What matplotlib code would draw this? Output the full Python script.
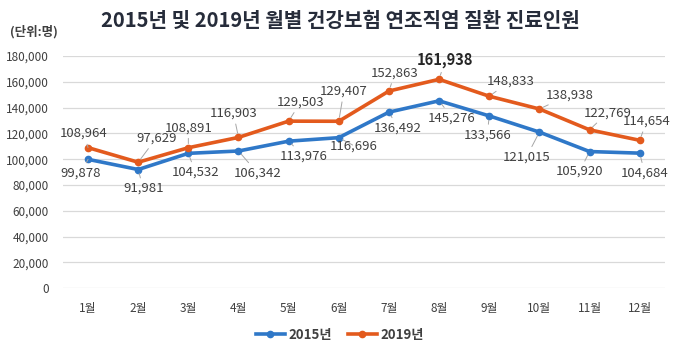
import matplotlib
matplotlib.use("Agg")
import matplotlib.pyplot as plt
from matplotlib.ticker import FuncFormatter, MultipleLocator

plt.rcParams['font.family'] = ['Noto Sans CJK KR', 'DejaVu Sans']

months = ['1월', '2월', '3월', '4월', '5월', '6월', '7월', '8월', '9월', '10월', '11월', '12월']
v2015 = [99878, 91981, 104532, 106342, 113976, 116696, 136492, 145276, 133566, 121015, 105920, 104684]
v2019 = [108964, 97629, 108891, 116903, 129503, 129407, 152863, 161938, 148833, 138938, 122769, 114654]
series_names = ['2015년', '2019년']
title = '2015년 및 2019년 월별 건강보험 연조직염 질환 진료인원'
unit_label = '(단위:명)'

# label offsets in pixels (dx, dy), dy positive = up
off2019 = [(-4, 14), (18, 24), (0, 20), (-5, 24), (12, 19), (5, 30),
           (6, 18), (6, 19), (21, 15), (30, 14), (18, 17), (7, 19)]
off2015 = [(-7, -14), (5, -19), (7, -19), (19, -22), (15, -15), (15, -8),
           (9, -16), (13, -17), (-2, -19), (-13, -25), (-10, -20), (5, -20)]

c2015 = '#2f78c8'
c2019 = '#e35a1d'
txt = '#404040'

fig = plt.figure(figsize=(6.8, 3.57), dpi=100)
ax = fig.add_axes([0.0926, 0.193, 0.885, 0.650])

x = list(range(len(months)))
ax.plot(x, v2015, color=c2015, lw=2.6, marker='o', ms=4.5, label=series_names[0], zorder=3)
ax.plot(x, v2019, color=c2019, lw=2.6, marker='o', ms=4.5, label=series_names[1], zorder=3)

ax.set_xlim(-0.5, len(months) - 0.5)
ax.set_ylim(0, 180000)
ax.yaxis.set_major_locator(MultipleLocator(20000))
ax.yaxis.set_major_formatter(FuncFormatter(lambda v, p: f'{int(v):,}'))
ax.set_xticks(x)
ax.set_xticklabels(months)
ax.grid(axis='y', color='#d9d9d9', lw=0.9)
ax.set_axisbelow(True)
for s in ax.spines.values():
    s.set_visible(False)
ax.tick_params(axis='both', length=0, labelsize=8.5, colors=txt)
ax.tick_params(axis='x', pad=10)
ax.tick_params(axis='y', pad=10)

def label(vals, offs, bold_idx=None):
    for i, (v, (dx, dy)) in enumerate(zip(vals, offs)):
        ax.annotate(f'{v:,}', xy=(i, v), xytext=(dx, dy), textcoords='offset pixels',
                    ha='center', va='center', fontsize=9.5 if i != bold_idx else 10.5,
                    fontweight='bold' if i == bold_idx else 'normal',
                    color='#262626' if i == bold_idx else txt,
                    arrowprops=dict(arrowstyle='-', color='#a6a6a6', lw=0.7,
                                    shrinkA=1, shrinkB=3), zorder=4)

label(v2019, off2019, bold_idx=7)
label(v2015, off2015)

fig.text(0.5, 0.944, title, ha='center', va='center', fontsize=14.5,
         fontweight='bold', color='#262c3a')
fig.text(0.015, 0.912, unit_label, ha='left', va='center', fontsize=9,
         fontweight='bold', color=txt)

fig.legend(loc='center', bbox_to_anchor=(0.5, 0.062), ncol=2, frameon=False,
           handlelength=2.2, columnspacing=1.2, handletextpad=0.3,
           prop={'weight': 'bold', 'size': 9.5})
for t in fig.legends[0].get_texts():
    t.set_color(txt)

fig.savefig('out.png', dpi=100)
